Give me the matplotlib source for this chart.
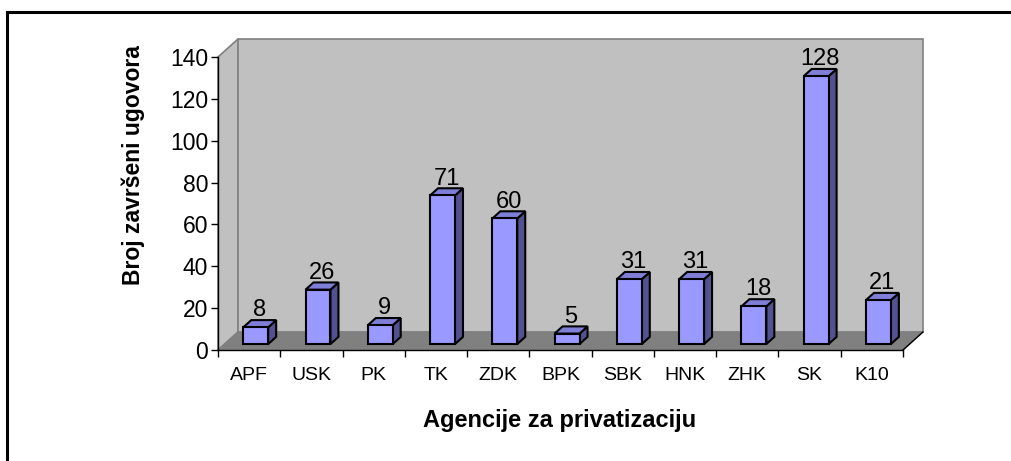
import numpy as np
import matplotlib
matplotlib.use("Agg")
import matplotlib.pyplot as plt
from matplotlib.patches import Polygon, Rectangle

# ---------------------------------------------------------------------------
# data
# ---------------------------------------------------------------------------
agencies = ["APF", "USK", "PK", "TK", "ZDK", "BPK", "SBK", "HNK", "ZHK", "SK", "K10"]
contracts = [8, 26, 9, 71, 60, 5, 31, 31, 18, 128, 21]
y_ticks = [0, 20, 40, 60, 80, 100, 120, 140]

# ---------------------------------------------------------------------------
# 3-D look (Excel style): depth offset of the walls in data units
# ---------------------------------------------------------------------------
DX, DY = 0.321, 8.6          # full depth of the plot box
D0, D1 = 0.33, 0.73          # bar sits between these fractions of the depth
BAR_W = 0.4
Y_TOP = 140

WALL = "#C0C0C0"
FLOOR = "#808080"
EDGE = "#808080"
FRONT = "#9999FF"
SIDE = "#525290"
TOP = "#7F7FD8"

plt.rcParams["font.family"] = ["Liberation Sans", "DejaVu Sans"]

fig = plt.figure(figsize=(10.11, 4.61), dpi=100)
ax = fig.add_axes([218 / 1011, 111 / 461, 707 / 1011, 311 / 461])
n = len(agencies)
ax.set_xlim(0, 11.354)
ax.set_ylim(0, 148.6)

# walls and floor
left_wall = Polygon([(0, 0), (DX, DY), (DX, Y_TOP + DY), (0, Y_TOP)],
                    closed=True, facecolor=WALL, edgecolor=EDGE, lw=1.2, clip_on=False, zorder=1)
back_wall = Rectangle((DX, DY), n, Y_TOP, facecolor=WALL, edgecolor=EDGE, lw=1.2,
                      clip_on=False, zorder=1)
floor = Polygon([(0, 0), (n, 0), (n + DX, DY), (DX, DY)], closed=True,
                facecolor=FLOOR, edgecolor=EDGE, lw=1.0, clip_on=False, zorder=1.5)
for p in (left_wall, back_wall, floor):
    ax.add_patch(p)
# right edge of floor
ax.plot([n, n + DX], [0, DY], color="black", lw=1.0, zorder=2, clip_on=False)

# bars
x = np.arange(n)
fx = x + 0.5 - BAR_W / 2 + DX * D0
base = DY * D0
vals = np.array(contracts, dtype=float)
ax.bar(fx, vals, width=BAR_W, bottom=base, align="edge", color=FRONT,
       edgecolor="black", linewidth=1.5, zorder=4)
ddx = DX * (D1 - D0)
ddy = DY * (D1 - D0)
for xi, v in zip(fx, vals):
    top = base + v
    side = Polygon([(xi + BAR_W, base), (xi + BAR_W + ddx, base + ddy),
                    (xi + BAR_W + ddx, top + ddy), (xi + BAR_W, top)],
                   closed=True, facecolor=SIDE, edgecolor="black", lw=1.5, zorder=3)
    lid = Polygon([(xi, top), (xi + ddx, top + ddy), (xi + BAR_W + ddx, top + ddy),
                   (xi + BAR_W, top)],
                  closed=True, facecolor=TOP, edgecolor="black", lw=1.5, zorder=3)
    ax.add_patch(side)
    ax.add_patch(lid)
    ax.text(xi + BAR_W / 2 + ddx / 2, top + ddy + 1.8, f"{int(v)}",
            ha="center", va="baseline", fontsize=17, zorder=5)

# axes
for s in ("top", "right"):
    ax.spines[s].set_visible(False)
ax.spines["left"].set_bounds(0, Y_TOP)
ax.spines["bottom"].set_bounds(0, n)
for s in ("left", "bottom"):
    ax.spines[s].set_linewidth(1.0)
    ax.spines[s].set_zorder(6)
ax.patch.set_visible(False)

ax.set_yticks(y_ticks)
ax.set_yticklabels([str(t) for t in y_ticks], fontsize=16.5)
ax.tick_params(axis="y", direction="out", length=5, width=1, pad=2)

ax.set_xticks(np.arange(n + 1))
ax.set_xticklabels([])
ax.tick_params(axis="x", which="major", direction="out", length=5, width=1)
ax.set_xticks(x + 0.5, minor=True)
ax.set_xticklabels(agencies, minor=True, fontsize=14)
ax.tick_params(axis="x", which="minor", length=0, pad=12)

fig.text(133 / 1011, (461 - 165) / 461, "Broj završeni ugovora", rotation=90,
         ha="center", va="center", fontsize=16.5, fontweight="bold")
fig.text(560 / 1011, (461 - 420) / 461, "Agencije za privatizaciju",
         ha="center", va="center", fontsize=17, fontweight="bold")

# outer chart frame (runs off the right and bottom of the picture)
fig.patches.append(Rectangle((7 / 1011, -0.1), 1.1, (461 - 12) / 461 + 0.1,
                             transform=fig.transFigure, fill=False,
                             edgecolor="black", lw=2.2))

fig.savefig("out.png", dpi=100)
